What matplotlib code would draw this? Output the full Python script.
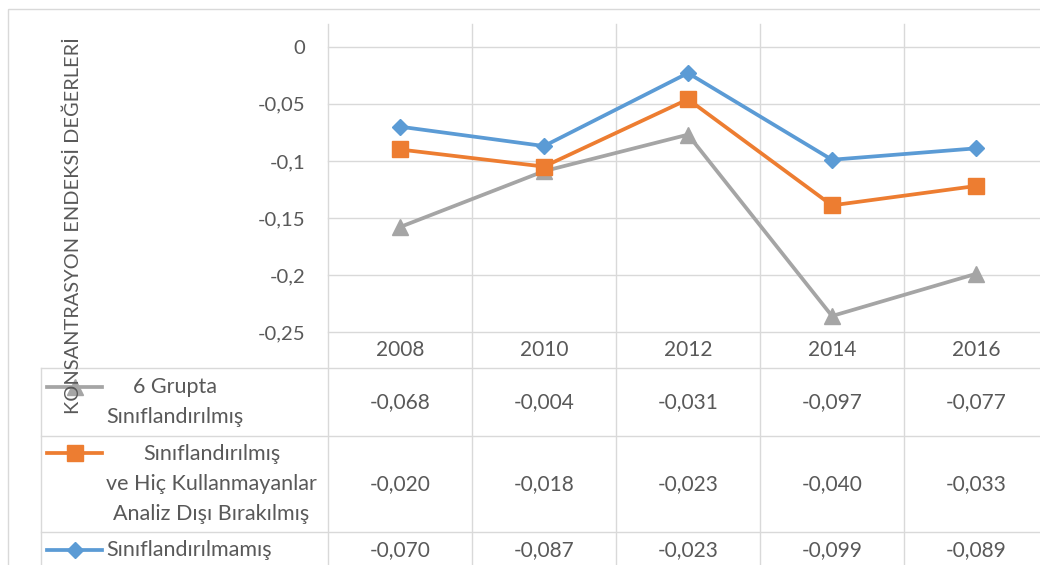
"""Konsantrasyon endeksi: stacked line chart with Excel-style data table."""

import matplotlib
matplotlib.use("Agg")
import matplotlib.pyplot as plt
from matplotlib.patches import Rectangle
from matplotlib.ticker import FuncFormatter
from matplotlib.transforms import blended_transform_factory
import numpy as np

years = ["2008", "2010", "2012", "2014", "2016"]
# values as in the data table; the chart stacks them (Excel "stacked line")
unclassified = [-0.070, -0.087, -0.023, -0.099, -0.089]
excl_nonusers = [-0.020, -0.018, -0.023, -0.040, -0.033]
six_groups = [-0.068, -0.004, -0.031, -0.097, -0.077]

series_names = [
    "6 Grupta\nSınıflandırılmış",
    "Sınıflandırılmış\nve Hiç Kullanmayanlar\nAnaliz Dışı Bırakılmış",
    "Sınıflandırılmamış",
]
colors = ["#A5A5A5", "#ED7D31", "#5B9BD5"]
markers = ["^", "s", "D"]
msizes = [12, 11.5, 8.5]
ylabel = "KONSANTRASYON ENDEKSİ DEĞERLERİ"

TXT = "#595959"
GRID = "#D9D9D9"
W, H = 1040, 565


def comma(v, _=None):
    s = f"{v:g}".replace(".", ",")
    return "0" if s in ("0", "-0") else s


def main() -> None:
    plt.rcParams["font.family"] = ["Lato", "DejaVu Sans"]

    blue = np.array(unclassified)
    orange = blue + np.array(excl_nonusers)
    grey = orange + np.array(six_groups)
    stacked = [grey, orange, blue]
    table_vals = [six_groups, excl_nonusers, unclassified]

    fig = plt.figure(figsize=(W / 100, H / 100), dpi=100)

    # overlay in pixel coords for table / frame
    tab = fig.add_axes([0, 0, 1, 1])
    tab.set_xlim(0, W)
    tab.set_ylim(H, 0)
    tab.axis("off")
    tab.set_zorder(0)

    ax = fig.add_axes([328 / W, 1 - 332 / H, 720 / W, 308 / H])
    ax.set_zorder(1)
    ax.patch.set_visible(False)

    x = np.arange(len(years))
    for vals, c, m, ms in zip(stacked, colors, markers, msizes):
        ax.plot(x, vals, color=c, lw=2.7, marker=m, ms=ms, mfc=c, mec=c, clip_on=False)

    ax.set_xlim(-0.5, len(years) - 0.5)
    ax.set_ylim(-0.25, 0.02)
    ax.set_yticks([0, -0.05, -0.1, -0.15, -0.2, -0.25])
    ax.yaxis.set_major_formatter(FuncFormatter(comma))
    ax.set_xticks([])
    ax.tick_params(axis="y", length=0, pad=16.5, labelsize=14.6, labelcolor=TXT)
    for s in ax.spines.values():
        s.set_visible(False)
    for t in ax.get_yticks():
        ax.axhline(t, color=GRID, lw=1.0, zorder=0, clip_on=False)

    fig.text(73 / W, 1 - 226 / H, ylabel, rotation=90, ha="center", va="center",
             fontsize=14.4, color=TXT)

    # data table
    bt = blended_transform_factory(ax.transData, tab.transData)
    for i in range(len(years) + 1):
        tab.plot([i - 0.5, i - 0.5], [24, H], color=GRID, lw=1.0, transform=bt,
                 clip_on=False)
    for yy in [368, 436, 532]:
        tab.plot([41, W], [yy, yy], color=GRID, lw=1.0)
    tab.plot([41, 41], [368, H], color=GRID, lw=1.0)
    tab.add_patch(Rectangle((8, 9), W, H, fill=False, edgecolor=GRID, lw=1.0))

    for i, yr in enumerate(years):
        tab.text(i, 350, yr, transform=bt, ha="center", va="center", fontsize=15,
                 color=TXT)

    row_centers = [402, 484, 550]
    key_y = [387, 453, 550]
    for r, (vals, name, c, m, ms) in enumerate(zip(table_vals, series_names, colors,
                                                    markers, msizes)):
        for i, v in enumerate(vals):
            tab.text(i, row_centers[r], f"{v:.3f}".replace(".", ","), transform=bt,
                     ha="center", va="center", fontsize=15, color=TXT)
        tab.text(106, row_centers[r], name, ha="left", va="center", multialignment="center",
                 fontsize=15.5, color=TXT, linespacing=1.62)
        tab.plot([47, 102], [key_y[r], key_y[r]], color=c, lw=2.7)
        tab.plot([74.5], [key_y[r]], marker=m, ms=ms, color=c, mec=c)

    fig.savefig("out.png", dpi=100)


if __name__ == "__main__":
    main()
